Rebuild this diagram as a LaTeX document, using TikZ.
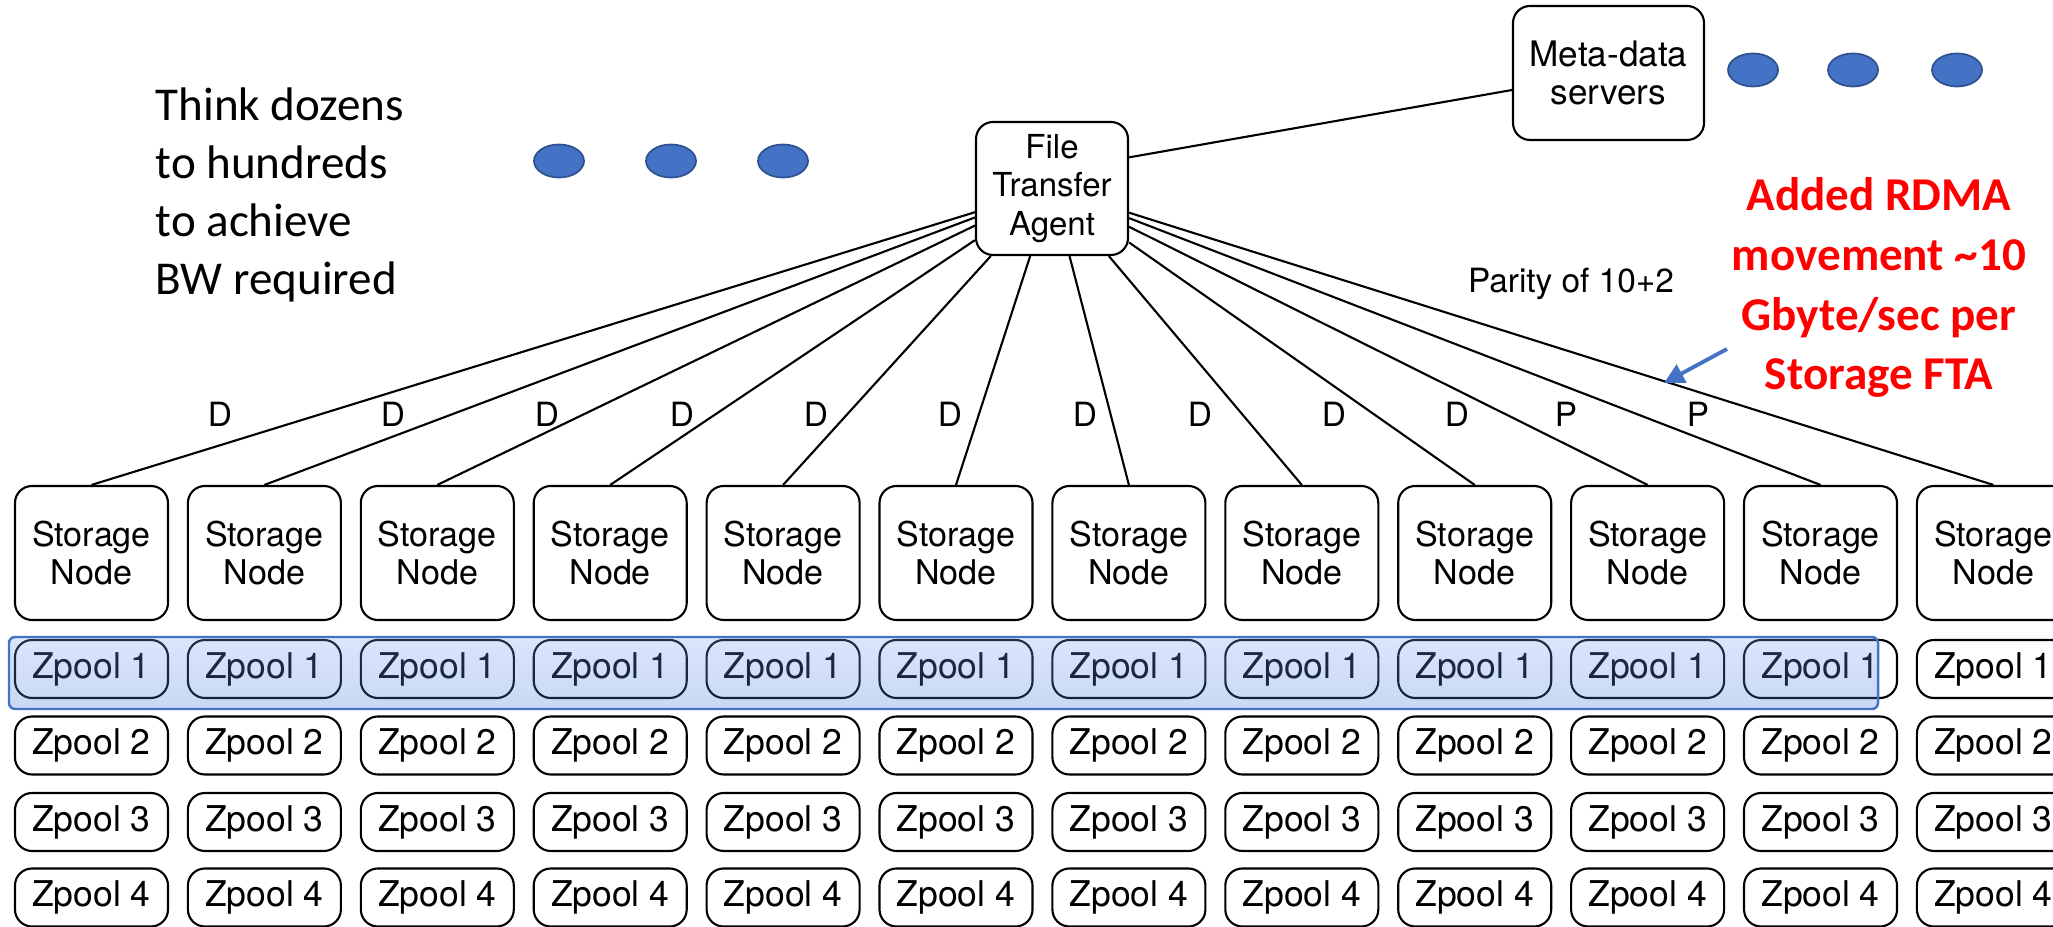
\documentclass[tikz,border=0pt]{standalone}
\usepackage{fontspec}
\setmainfont{TeX Gyre Heros}
\newfontfamily\calibri{Carlito}
\usepackage{tikz}
\usetikzlibrary{arrows.meta,shapes.geometric}
\definecolor{ink}{HTML}{000000}
\definecolor{accent}{HTML}{4472C4}
\definecolor{accentdark}{HTML}{2F528F}
\definecolor{alert}{HTML}{FF0000}
\definecolor{hitop}{HTML}{7AA3F2}
\definecolor{hibot}{HTML}{3F72D6}
\tikzset{
  box/.style={draw=ink, line width=0.6pt, rounded corners=0.17cm, align=center, inner sep=0pt, font=\fontsize{9.7}{10.6}\selectfont},
  snode/.style={box, minimum width=1.53cm, minimum height=1.34cm},
  pool/.style={box, minimum width=1.53cm, minimum height=0.58cm, font=\fontsize{10.1}{11}\selectfont},
  link/.style={draw=ink, line width=0.6pt},
  dot/.style={ellipse, draw=accentdark, fill=accent, line width=0.5pt, minimum width=0.5cm, minimum height=0.33cm, inner sep=0pt},
  lbl/.style={font=\fontsize{9.5}{11}\selectfont, anchor=base, inner sep=0pt},
  note/.style={font=\calibri\fontsize{13.4}{16.5}\selectfont, align=left, inner sep=0pt},
  rednote/.style={font=\calibri\bfseries\fontsize{13.4}{17}\selectfont, text=alert, align=center, inner sep=0pt},
  hilite/.style={draw=accent, line width=0.7pt, rounded corners=0.06cm, top color=hitop, bottom color=hibot, fill opacity=0.28},
  pointer/.style={draw=accent, line width=1.1pt, -{Triangle[length=0.2cm,width=0.2cm]}}
}

\begin{document}
\begin{tikzpicture}
  \useasboundingbox (0,0) rectangle (20.53,9.27);

  % agent and meta-data servers
  \node[box, minimum width=1.52cm, minimum height=1.33cm, font=\fontsize{9.4}{10.9}\selectfont] (fta) at (10.52,7.385) {File\\Transfer\\Agent};
  \node[box, minimum width=1.91cm, minimum height=1.34cm, font=\fontsize{10}{10.8}\selectfont] (meta) at (16.085,8.54) {Meta-data\\servers};
  \draw[link] (fta.22) -- (meta.190);

  % storage nodes, their zpools and the links from the agent
  \foreach \i in {1,...,12} {
    \pgfmathsetmacro{\xc}{0.915+1.729*(\i-1)}
    \node[snode] (sn\i) at (\xc,3.74) {Storage\\Node};
    \foreach \r/\yc in {1/2.58, 2/1.815, 3/1.05, 4/0.295}
      \node[pool] (zp\i-\r) at (\xc,\yc) {Zpool \r};
    \draw[link] (fta) -- (sn\i.north);
  }

  % stripe across the first zpools
  \draw[hilite] (0.09,2.18) rectangle (18.78,2.90);

  \foreach \x/\t [count=\k] in {2.20/D,3.93/D,5.47/D,6.82/D,8.16/D,9.50/D,10.85/D,12.00/D,13.34/D,14.57/D,15.66/P,16.98/P}
    \node[lbl] (tag\k) at (\x,5.00) {\t};
  \node[lbl] (parity) at (15.71,6.34) {Parity of 10+2};

  % more of them
  \foreach \x [count=\k] in {5.59,6.71,7.83}
    \node[dot] (ldot\k) at (\x,7.66) {};
  \foreach \x [count=\k] in {17.53,18.53,19.57}
    \node[dot] (rdot\k) at (\x,8.57) {};

  \node[note, anchor=north west] (think) at (1.55,8.40) {Think dozens\\to hundreds\\to achieve\\BW required};
  \node[rednote, anchor=north] (rdma) at (18.79,7.50) {Added RDMA\\movement \textasciitilde10\\Gbyte/sec per\\Storage FTA};

  \coordinate (tail) at (17.27,5.78);
  \coordinate (hit) at (16.64,5.44);
  \draw[pointer] (tail) -- (hit);
\end{tikzpicture}
\end{document}
